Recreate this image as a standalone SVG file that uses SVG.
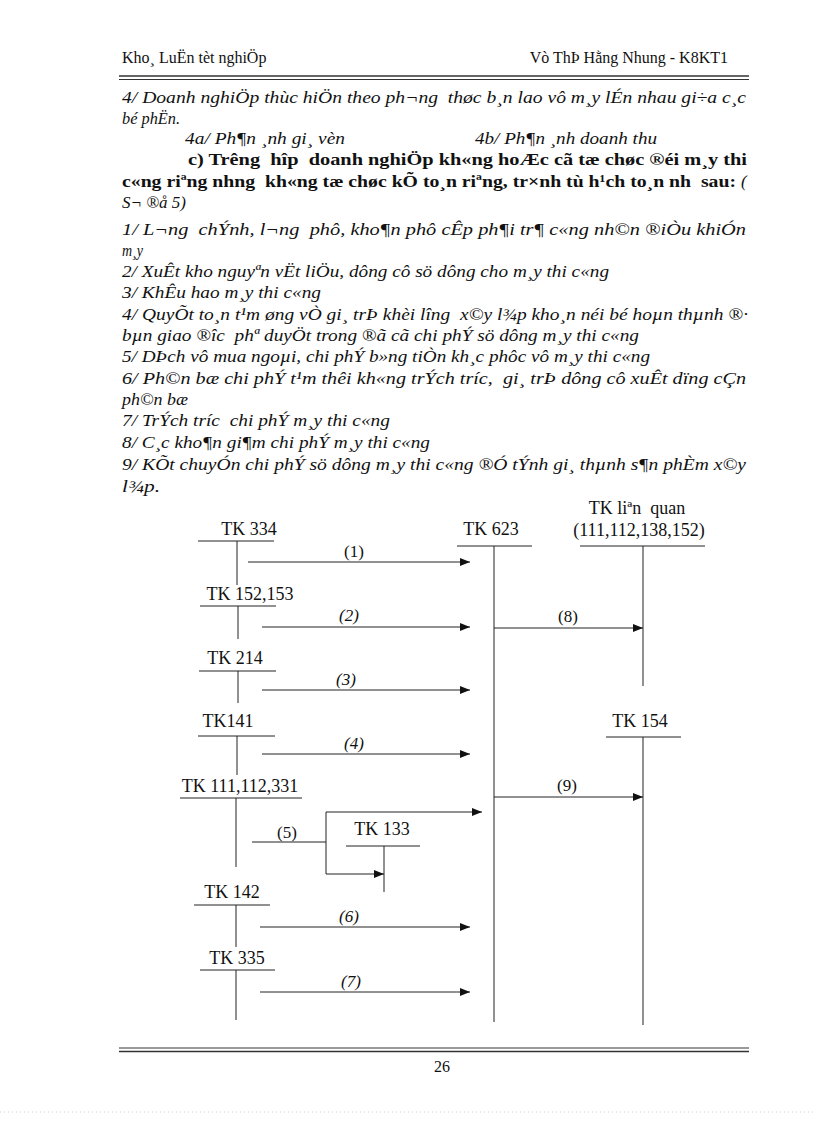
<svg xmlns="http://www.w3.org/2000/svg" width="816" height="1123" viewBox="0 0 816 1123">
<style>
text { font-family: "Liberation Serif", "DejaVu Serif", serif; fill: #111; white-space: pre; }
.hd { font-size: 16px; }
.bd { font-size: 17px; font-style: italic; }
.bb { font-size: 17px; font-weight: bold; }
.tk { font-size: 18px; text-anchor: middle; }
.lb { font-size: 17px; text-anchor: middle; }
.li { font-size: 17px; font-style: italic; text-anchor: middle; }
.ln { stroke: #222; stroke-width: 1; fill: none; }
.ar { stroke: #222; stroke-width: 1; fill: none; marker-end: url(#ah); }
.rule { stroke: #333; fill: none; }
</style>
<defs>
<marker id="ah" markerUnits="userSpaceOnUse" markerWidth="11" markerHeight="8" refX="10" refY="4" orient="auto">
<path d="M0,0 L10,4 L0,8 z" fill="#111"/>
</marker>
</defs>
<rect width="816" height="1123" fill="#fff"/>

<g id="page-header">
<text class="hd" x="122" y="63">Kho¸ LuËn tèt nghiÖp</text>
<text class="hd" x="728" y="63" text-anchor="end">Vò ThÞ Hằng Nhung - K8KT1</text>
<line class="rule" x1="119" y1="76" x2="749" y2="76" stroke-width="1.3"/>
<line class="rule" x1="119" y1="79.5" x2="749" y2="79.5" stroke-width="1"/>
</g>

<g id="body-text">
<text class="bd" x="122" y="103" textLength="624" lengthAdjust="spacingAndGlyphs">4/ Doanh nghiÖp thùc hiÖn theo ph¬ng  thøc b¸n lao vô m¸y lÉn nhau gi÷a c¸c</text>
<text class="bd" x="122" y="124" textLength="58" lengthAdjust="spacingAndGlyphs">bé phËn.</text>
<text class="bd" x="185" y="144" textLength="160" lengthAdjust="spacingAndGlyphs">4a/ Ph¶n ¸nh gi¸ vèn</text>
<text class="bd" x="475" y="144" textLength="182" lengthAdjust="spacingAndGlyphs">4b/ Ph¶n ¸nh doanh thu</text>
<text class="bb" x="188" y="165" textLength="559" lengthAdjust="spacingAndGlyphs">c) Trêng  hîp  doanh nghiÖp kh«ng hoÆc cã tæ chøc ®éi m¸y thi</text>
<text class="bb" x="122" y="187" textLength="614" lengthAdjust="spacingAndGlyphs">c«ng riªng nhng  kh«ng tæ chøc kÕ to¸n riªng, tr×nh tù h¹ch to¸n nh  sau:</text>
<text class="bd" x="741" y="187">(</text>
<text class="bd" x="122" y="208" textLength="64" lengthAdjust="spacingAndGlyphs">S¬ ®å 5)</text>
<text class="bd" x="122" y="235" textLength="624" lengthAdjust="spacingAndGlyphs">1/ L¬ng  chÝnh, l¬ng  phô, kho¶n phô cÊp ph¶i tr¶ c«ng nh©n ®iÒu khiÓn</text>
<text class="bd" x="122" y="256" textLength="21" lengthAdjust="spacingAndGlyphs">m¸y</text>
<text class="bd" x="122" y="277" textLength="487" lengthAdjust="spacingAndGlyphs">2/ XuÊt kho nguyªn vËt liÖu, dông cô sö dông cho m¸y thi c«ng</text>
<text class="bd" x="122" y="298" textLength="199" lengthAdjust="spacingAndGlyphs">3/ KhÊu hao m¸y thi c«ng</text>
<text class="bd" x="122" y="320" textLength="626" lengthAdjust="spacingAndGlyphs">4/ QuyÕt to¸n t¹m øng vÒ gi¸ trÞ khèi lîng  x©y l¾p kho¸n néi bé hoµn thµnh ®·</text>
<text class="bd" x="122" y="341" textLength="517" lengthAdjust="spacingAndGlyphs">bµn giao ®îc  phª duyÖt trong ®ã cã chi phÝ sö dông m¸y thi c«ng</text>
<text class="bd" x="122" y="362" textLength="528" lengthAdjust="spacingAndGlyphs">5/ DÞch vô mua ngoµi, chi phÝ b»ng tiÒn kh¸c phôc vô m¸y thi c«ng</text>
<text class="bd" x="122" y="384" textLength="624" lengthAdjust="spacingAndGlyphs">6/ Ph©n bæ chi phÝ t¹m thêi kh«ng trÝch tríc,  gi¸ trÞ dông cô xuÊt dïng cÇn</text>
<text class="bd" x="122" y="405" textLength="66" lengthAdjust="spacingAndGlyphs">ph©n bæ</text>
<text class="bd" x="122" y="426" textLength="268" lengthAdjust="spacingAndGlyphs">7/ TrÝch tríc  chi phÝ m¸y thi c«ng</text>
<text class="bd" x="122" y="448" textLength="308" lengthAdjust="spacingAndGlyphs">8/ C¸c kho¶n gi¶m chi phÝ m¸y thi c«ng</text>
<text class="bd" x="122" y="470" textLength="624" lengthAdjust="spacingAndGlyphs">9/ KÕt chuyÓn chi phÝ sö dông m¸y thi c«ng ®Ó tÝnh gi¸ thµnh s¶n phÈm x©y</text>
<text class="bd" x="122" y="492" textLength="38" lengthAdjust="spacingAndGlyphs">l¾p.</text>
</g>

<g id="tk334">
<text class="tk" x="249" y="535">TK 334</text>
<line class="ln" x1="198" y1="541" x2="274" y2="541"/>
<line class="ln" x1="237" y1="541" x2="237" y2="585"/>
</g>
<g id="tk623">
<text class="tk" x="491" y="535">TK 623</text>
<line class="ln" x1="457" y1="546" x2="532" y2="546"/>
<line class="ln" x1="494" y1="546" x2="494" y2="1022"/>
</g>
<g id="tk-lienquan">
<text class="tk" x="637" y="514">TK liªn  quan</text>
<text class="tk" x="639" y="536">(111,112,138,152)</text>
<line class="ln" x1="580" y1="546" x2="705" y2="546"/>
<line class="ln" x1="643" y1="546" x2="643" y2="686"/>
</g>
<g id="tk152">
<text class="tk" x="250" y="600">TK 152,153</text>
<line class="ln" x1="200" y1="606" x2="276" y2="606"/>
<line class="ln" x1="238" y1="606" x2="238" y2="639"/>
</g>
<g id="tk214">
<text class="tk" x="235" y="664">TK 214</text>
<line class="ln" x1="199" y1="671" x2="276" y2="671"/>
<line class="ln" x1="238" y1="671" x2="238" y2="703"/>
</g>
<g id="tk141">
<text class="tk" x="228" y="727">TK141</text>
<line class="ln" x1="198" y1="736" x2="275" y2="736"/>
<line class="ln" x1="237" y1="736" x2="237" y2="775"/>
</g>
<g id="tk154">
<text class="tk" x="640" y="727">TK 154</text>
<line class="ln" x1="606" y1="737" x2="681" y2="737"/>
<line class="ln" x1="643" y1="737" x2="643" y2="1025"/>
</g>
<g id="tk111">
<text class="tk" x="240" y="792">TK 111,112,331</text>
<line class="ln" x1="180" y1="798" x2="302" y2="798"/>
<line class="ln" x1="236" y1="798" x2="236" y2="867"/>
</g>
<g id="tk133">
<text class="tk" x="382" y="835">TK 133</text>
<line class="ln" x1="346" y1="846" x2="420" y2="846"/>
<line class="ln" x1="384" y1="846" x2="384" y2="892"/>
</g>
<g id="tk142">
<text class="tk" x="232" y="898">TK 142</text>
<line class="ln" x1="194" y1="905" x2="270" y2="905"/>
<line class="ln" x1="236" y1="905" x2="236" y2="947"/>
</g>
<g id="tk335">
<text class="tk" x="237" y="964">TK 335</text>
<line class="ln" x1="200" y1="970" x2="275" y2="970"/>
<line class="ln" x1="236" y1="970" x2="236" y2="1020"/>
</g>

<g id="connectors">
<line class="ar" x1="248" y1="562" x2="470" y2="562"/>
<text class="lb" x="354" y="557">(1)</text>
<line class="ar" x1="262" y1="627" x2="470" y2="627"/>
<text class="li" x="349" y="621">(2)</text>
<line class="ar" x1="494" y1="628" x2="643" y2="628"/>
<text class="lb" x="568" y="622">(8)</text>
<line class="ar" x1="262" y1="690" x2="470" y2="690"/>
<text class="li" x="346" y="685">(3)</text>
<line class="ar" x1="262" y1="754" x2="470" y2="754"/>
<text class="li" x="354" y="749">(4)</text>
<line class="ar" x1="494" y1="797" x2="643" y2="797"/>
<text class="lb" x="567" y="791">(9)</text>
<line class="ln" x1="252" y1="842" x2="326" y2="842"/>
<text class="lb" x="287" y="838">(5)</text>
<line class="ln" x1="326" y1="812" x2="326" y2="874"/>
<line class="ar" x1="326" y1="812" x2="482" y2="812"/>
<line class="ar" x1="326" y1="874" x2="384" y2="874"/>
<line class="ar" x1="260" y1="927" x2="470" y2="927"/>
<text class="li" x="349" y="922">(6)</text>
<line class="ar" x1="260" y1="992" x2="470" y2="992"/>
<text class="li" x="351" y="987">(7)</text>
</g>

<g id="page-footer">
<line class="rule" x1="119" y1="1048" x2="749" y2="1048" stroke-width="1"/>
<line class="rule" x1="119" y1="1051.5" x2="749" y2="1051.5" stroke-width="1.3"/>
<text class="hd" x="442" y="1072" text-anchor="middle">26</text>
<line x1="0" y1="1112" x2="816" y2="1112" stroke="#ccc" stroke-width="1" stroke-dasharray="1,3"/>
</g>
</svg>
